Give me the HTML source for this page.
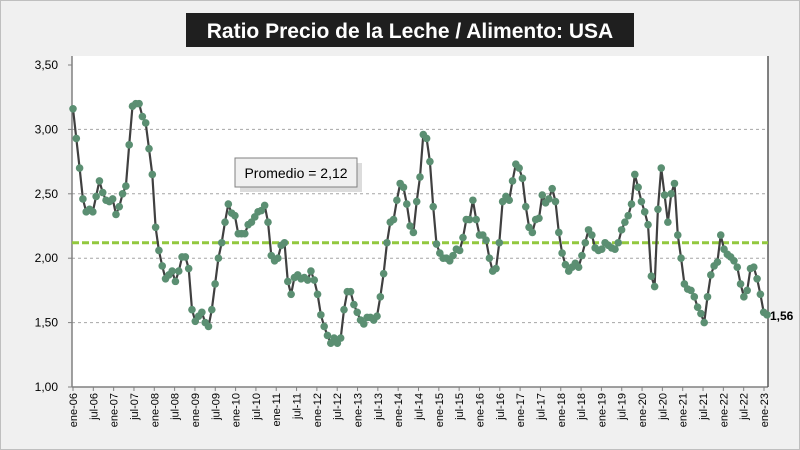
<!DOCTYPE html>
<html><head><meta charset="utf-8"><style>
body{margin:0;background:#fff}
svg{display:block;font-family:"Liberation Sans",sans-serif}
</style></head><body>
<svg id="chart" width="800" height="450" xmlns="http://www.w3.org/2000/svg">
<rect x="0" y="0" width="800" height="450" fill="#f0f0f0"/>
<rect x="0.5" y="0.5" width="799" height="449" fill="none" stroke="#bfbfbf"/>
<rect x="72" y="56" width="696" height="331" fill="#ffffff"/>
<rect x="186" y="13" width="448" height="34" fill="#1f1f1f"/>
<text x="410" y="38" text-anchor="middle" font-size="21" font-weight="bold" fill="#fff">Ratio Precio de la Leche / Alimento: USA</text>
<g id="grid"></g><g id="axes"></g><g id="series"></g>
<rect x="237" y="160" width="122" height="29" fill="#dcdcdc" transform="translate(3,3)"/>
<rect x="235" y="158" width="122" height="29" fill="#f0f0f0" stroke="#808080"/>
<text x="296" y="178" text-anchor="middle" font-size="14" fill="#000">Promedio = 2,12</text>
</svg>
<script>
const yTicks=[1.0,1.5,2.0,2.5,3.0,3.5];
const yTickLabels=["1,00","1,50","2,00","2,50","3,00","3,50"];
const average=2.12;
const xLabels=["ene-06","jul-06","ene-07","jul-07","ene-08","jul-08","ene-09","jul-09","ene-10","jul-10","ene-11","jul-11","ene-12","jul-12","ene-13","jul-13","ene-14","jul-14","ene-15","jul-15","ene-16","jul-16","ene-17","jul-17","ene-18","jul-18","ene-19","jul-19","ene-20","jul-20","ene-21","jul-21","ene-22","jul-22","ene-23"];
const ratio=[
3.16,2.93,2.70,2.46,2.36,2.38,2.36,2.48,2.60,2.51,2.45,2.44,
2.46,2.34,2.40,2.50,2.56,2.88,3.18,3.20,3.20,3.10,3.05,2.85,
2.65,2.24,2.06,1.94,1.84,1.87,1.90,1.82,1.90,2.01,2.01,1.92,
1.60,1.51,1.55,1.58,1.50,1.47,1.60,1.80,2.00,2.12,2.28,2.42,
2.35,2.33,2.19,2.19,2.19,2.26,2.28,2.32,2.36,2.37,2.41,2.28,
2.02,1.98,2.00,2.10,2.12,1.82,1.72,1.85,1.87,1.84,1.85,1.83,
1.90,1.83,1.72,1.56,1.47,1.40,1.34,1.38,1.34,1.38,1.60,1.74,
1.74,1.64,1.58,1.52,1.49,1.54,1.54,1.52,1.55,1.70,1.88,2.12,
2.28,2.30,2.45,2.58,2.55,2.42,2.25,2.20,2.44,2.63,2.96,2.93,
2.75,2.40,2.11,2.04,2.00,2.00,1.98,2.02,2.07,2.06,2.16,2.30,
2.30,2.45,2.30,2.18,2.18,2.14,2.00,1.90,1.92,2.12,2.44,2.48,
2.45,2.60,2.73,2.70,2.62,2.40,2.24,2.20,2.30,2.31,2.49,2.43,
2.46,2.54,2.44,2.20,2.04,1.95,1.90,1.93,1.96,1.93,2.02,2.12,
2.22,2.18,2.08,2.06,2.07,2.12,2.10,2.08,2.07,2.12,2.22,2.28,
2.33,2.42,2.65,2.55,2.44,2.36,2.26,1.86,1.78,2.38,2.70,2.49,
2.28,2.50,2.58,2.18,2.00,1.80,1.76,1.75,1.70,1.62,1.57,1.50,
1.70,1.87,1.94,1.97,2.18,2.07,2.03,2.01,1.98,1.93,1.80,1.70,
1.75,1.92,1.93,1.84,1.72,1.58,1.56];
const lastLabel="1,56";
const NS="http://www.w3.org/2000/svg";
const X0=73,X1=767,Y0=387,Y1=65;
function yScale(v){return Y0-(v-1.0)/(3.5-1.0)*(Y0-Y1);}
function xScale(i){return X0+i*(X1-X0)/(ratio.length-1);}
function lblX(k){return X0+k*(764-X0)/(xLabels.length-1);}
function mk(tag,attrs,parent){const e=document.createElementNS(NS,tag);for(const k in attrs)e.setAttribute(k,attrs[k]);parent.appendChild(e);return e;}
const grid=document.getElementById('grid'),axes=document.getElementById('axes'),series=document.getElementById('series');
yTicks.forEach((t,i)=>{
  const y=yScale(t);
  if(t>1.0&&t<3.5){const g=mk('line',{x1:72,x2:768,y1:y,y2:y,stroke:'#a6a6a6','stroke-dasharray':'3,3'},grid);
  
  }
  const tk=mk('line',{x1:68,x2:72,y1:y,y2:y,stroke:'#808080'},axes);
  
  
  const tx=mk('text',{x:58,y:y+4,'text-anchor':'end','font-size':12,fill:'#000'},axes);
  tx.textContent=yTickLabels[i];
  
  
});
const ya=mk('line',{x1:72,x2:72,y1:56,y2:387,stroke:'#808080','stroke-width':1.5},axes);


const xa=mk('line',{x1:72,x2:768,y1:387,y2:387,stroke:'#808080','stroke-width':1.5},axes);


const rb=mk('line',{x1:768,x2:768,y1:56,y2:387,stroke:'#595959','stroke-width':1.5},axes);


xLabels.forEach((l,k)=>{
  const x=lblX(k);
  const tk=mk('line',{x1:x,x2:x,y1:387,y2:391,stroke:'#808080'},axes);
  
  
  const t=mk('text',{x:x+4,y:393,'text-anchor':'end','font-size':11,fill:'#000',transform:`rotate(-90 ${x+4} 393)`},axes);
  t.textContent=l;
  
  
});
const ay=yScale(average);
const avg=mk('line',{x1:72,x2:768,y1:ay,y2:ay,stroke:'#92c83e','stroke-width':3,'stroke-dasharray':'7,3'},series);


const pts=ratio.map((v,i)=>xScale(i).toFixed(1)+','+yScale(v).toFixed(1)).join(' ');
const pl=mk('polyline',{points:pts,fill:'none',stroke:'#404040','stroke-width':2.2},series);


ratio.forEach((v,i)=>{
  const c=mk('circle',{cx:xScale(i),cy:yScale(v),r:3.8,fill:'#5b8f72'},series);
  
  
});
const ll=mk('text',{x:770,y:yScale(ratio[ratio.length-1])+5,'font-size':12,'font-weight':'bold',fill:'#000'},series);
ll.textContent=lastLabel;


</script>
</body></html>
